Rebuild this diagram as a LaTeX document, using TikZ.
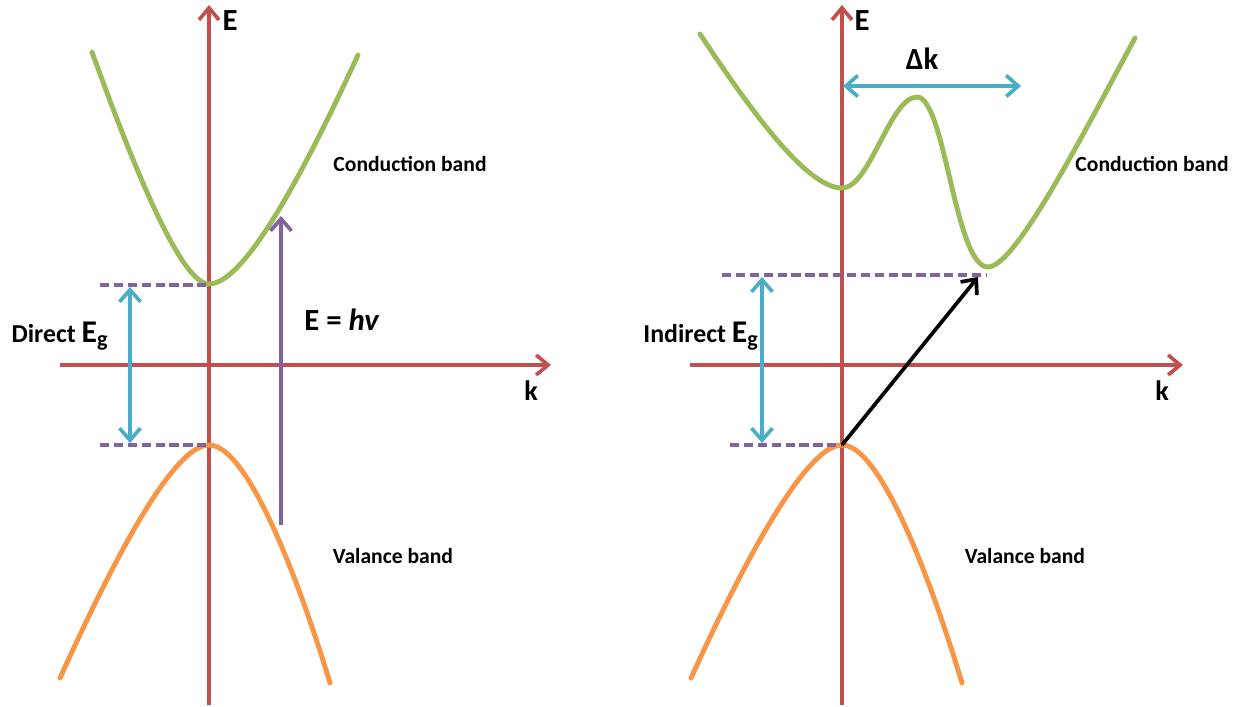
\documentclass[tikz,border=0pt]{standalone}
\usepackage{fontspec}
\setmainfont{Carlito}
\usetikzlibrary{arrows.meta}
\definecolor{cred}{HTML}{C0504D}
\definecolor{cgreen}{HTML}{9BBB59}
\definecolor{corange}{HTML}{F79646}
\definecolor{cpurple}{HTML}{8064A2}
\definecolor{ccyan}{HTML}{4BACC6}

\begin{document}
\begin{tikzpicture}[x=0.02cm,y=-0.02cm,
  axis/.style={cred,line width=2.1pt,-{Straight Barb[length=2.4mm,width=4mm]}},
  cband/.style={cgreen,line width=2.8pt,line cap=round},
  vband/.style={corange,line width=2.8pt,line cap=round},
  level/.style={cpurple,line width=2.1pt,dash pattern=on 5.3pt off 2.6pt},
  gaparr/.style={ccyan,line width=2.1pt,{Straight Barb[length=2.4mm,width=4.2mm]}-{Straight Barb[length=2.4mm,width=4.2mm]}},
  photon/.style={cpurple,line width=2.1pt,-{Straight Barb[length=2.4mm,width=4.2mm]}},
  trans/.style={black,line width=2.1pt,-{Straight Barb[length=2.4mm,width=4.2mm]}},
  lbl/.style={font=\fontsize{12.3}{15}\selectfont\bfseries,anchor=base,inner sep=0pt},
  big/.style={font=\fontsize{17.5}{20}\selectfont\bfseries,anchor=base,inner sep=0pt},
  kax/.style={font=\fontsize{16}{19}\selectfont\bfseries,anchor=base,inner sep=0pt},
  eg/.style={font=\fontsize{14.7}{18}\selectfont\bfseries,anchor=base,inner sep=0pt}]
  \useasboundingbox (0,0) rectangle (1239,706);

  % direct gap
  \coordinate (dV0) at (209,705);  \coordinate (dV1) at (209,5);
  \coordinate (dH0) at (60,365);   \coordinate (dH1) at (551,365);
  \draw[axis] (dV0) -- (dV1);
  \draw[axis] (dH0) -- (dH1);
  \draw[cband] (92,52) .. controls (134,168) and (181,284) .. (209,284)
     .. controls (245,284) and (305,170) .. (358,55);
  \draw[vband] (60,678) .. controls (100,590) and (169,445) .. (209,445)
     .. controls (249,445) and (302,590) .. (330,683);
  \coordinate (dCB) at (209,285);  \coordinate (dCBl) at (100,285);
  \coordinate (dVB) at (209,445);  \coordinate (dVBl) at (100,445);
  \draw[level] (dCBl) -- (dCB);
  \draw[level] (dVBl) -- (dVB);
  \coordinate (dGt) at (130,287);  \coordinate (dGb) at (130,443);
  \draw[gaparr] (dGb) -- (dGt);
  \coordinate (hv0) at (281,525);  \coordinate (hv1) at (281,216);
  \draw[photon] (hv0) -- (hv1);
  \node[big] (dE) at (230,31) {E};
  \node[kax] (dk) at (531,400) {k};
  \node[lbl] (dCond) at (410,171) {Conduction band};
  \node[lbl] (dVal) at (393,563) {Valance band};
  \node[eg] (dEg) at (60,342) {Direct {\fontsize{18}{22}\selectfont E\textsubscript{g}}};
  \node[big] (hvlbl) at (342,330) {E = \textit{hv}};

  % indirect gap
  \coordinate (iV0) at (842,705);  \coordinate (iV1) at (842,5);
  \coordinate (iH0) at (690,365);  \coordinate (iH1) at (1183,365);
  \draw[axis] (iV0) -- (iV1);
  \draw[axis] (iH0) -- (iH1);
  \draw[cband] (700,34) .. controls (760,125) and (810,188) .. (842,188)
     .. controls (870,188) and (890,97) .. (917,97)
     .. controls (945,97) and (955,267) .. (988,267)
     .. controls (1015,267) and (1080,140) .. (1135,38);
  \draw[vband] (691,678) .. controls (731,590) and (802,445) .. (842,445)
     .. controls (882,445) and (934,590) .. (962,683);
  \coordinate (iCB) at (987,275);  \coordinate (iCBl) at (722,275);
  \coordinate (iVB) at (842,445);  \coordinate (iVBl) at (730,445);
  \draw[level] (iCBl) -- (iCB);
  \draw[level] (iVBl) -- (iVB);
  \coordinate (iGt) at (762,277);  \coordinate (iGb) at (762,443);
  \draw[gaparr] (iGb) -- (iGt);
  \coordinate (iTr) at (978,277);
  \draw[trans] (iVB) -- (iTr);
  \coordinate (dk0) at (843,86);   \coordinate (dk1) at (1021,86);
  \draw[gaparr] (dk0) -- (dk1);
  \node[big] (iE) at (862,31) {E};
  \node[kax] (ik) at (1162,400) {k};
  \node[big] (dklbl) at (922,70) {Δk};
  \node[lbl] (iCond) at (1152,171) {Conduction band};
  \node[lbl] (iVal) at (1025,563) {Valance band};
  \node[eg] (iEg) at (701,342) {Indirect {\fontsize{18}{22}\selectfont E\textsubscript{g}}};
\end{tikzpicture}
\end{document}
